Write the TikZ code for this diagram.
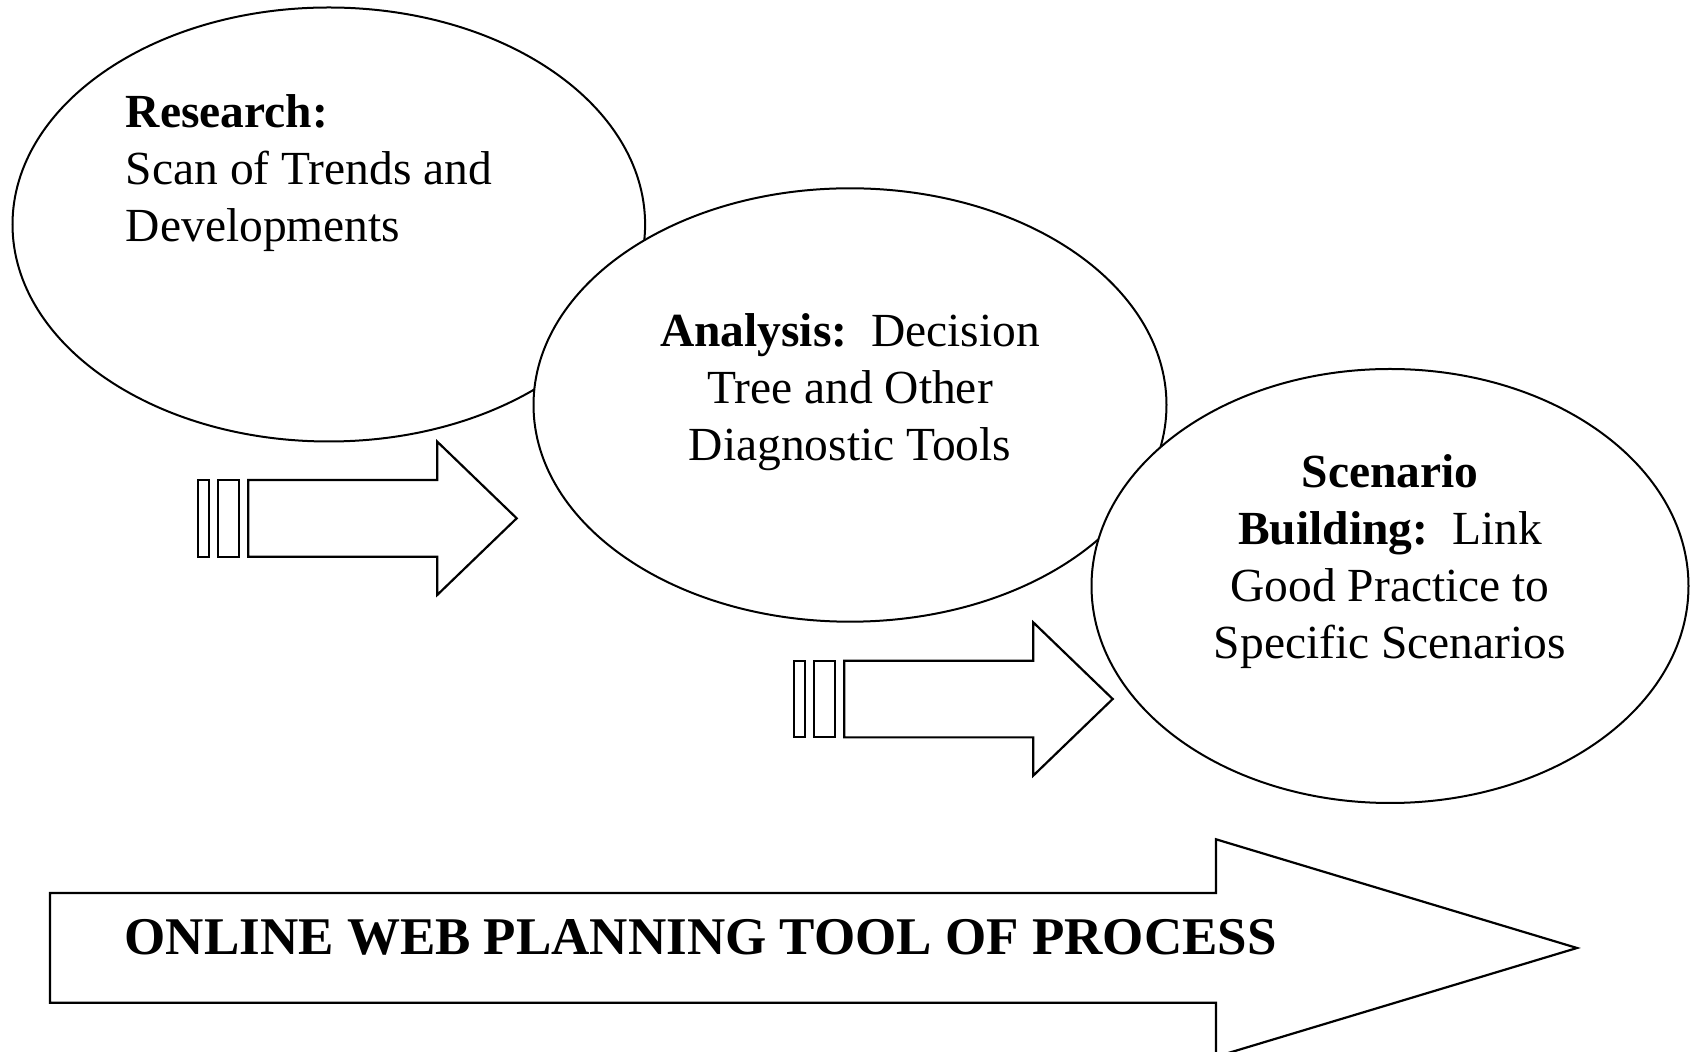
\documentclass[tikz,border=0pt]{standalone}
\usepackage{fontspec}
\setmainfont{Liberation Serif}
\usetikzlibrary{shapes.geometric}
\tikzset{
  bubble/.style={ellipse, draw, line width=1pt, fill=white, inner sep=0pt},
  bodytext/.style={inner sep=0pt, font=\fontsize{23.75}{28.5}\selectfont},
  shapeline/.style={draw, line width=1.1pt, line join=miter, fill=white},
  pics/fatarrow/.style={code={
    \path[shapeline] (-318.4,-38.3) rectangle (-307.4,38.4);
    \path[shapeline] (-298.4,-38.3) rectangle (-277.4,38.4);
    \path[shapeline] (-268.4,-38.3) -- (-79.4,-38.3) -- (-79.4,-76.6) -- (0,0)
       -- (-79.4,76.6) -- (-79.4,38.4) -- (-268.4,38.4) -- cycle;
  }}
}
\begin{document}
\begin{tikzpicture}[x=0.5pt,y=-0.5pt]
\clip (0,0) rectangle (1694,1052);
\fill[white] (0,0) rectangle (1694,1052);
% bubbles
\node[bubble, minimum width=316.3pt, minimum height=217pt] (e1) at (328.8,224.5) {};
\node[bubble, minimum width=316.5pt, minimum height=216.7pt] (e2) at (850,405) {};
\node[bubble, minimum width=298.5pt, minimum height=217pt] (e3) at (1390,586) {};
% texts (base anchor = baseline of last line)
\node[bodytext, align=left, anchor=base west] (t1) at (125.5,241.7)
  {\textbf{Research:}\\Scan of Trends and\\Developments};
\node[bodytext, align=center, anchor=base] (t2) at (850,460.7)
  {\textbf{Analysis:}\ \ Decision\\Tree and Other\\Diagnostic Tools};
\node[bodytext, align=center, anchor=base] (t3) at (1390,659)
  {\textbf{Scenario}\\\textbf{Building:}\ \ Link\\Good Practice to\\Specific Scenarios};
% small arrows
\pic (a1) at (516.7,518.3) {fatarrow};
\pic (a2) at (1112.7,699) {fatarrow};
% big arrow
\coordinate (bt) at (1577,948);
\path[shapeline] (50,893) -- (1216,893) -- (1216,839.3) -- (bt)
   -- (1216,1056.7) -- (1216,1002.7) -- (50,1002.7) -- cycle;
\node[inner sep=0pt, anchor=base west, font=\fontsize{26.5}{32}\selectfont\bfseries] (big) at (124.3,955)
  {ONLINE WEB PLANNING TOOL OF PROCESS};
\end{tikzpicture}
\end{document}
